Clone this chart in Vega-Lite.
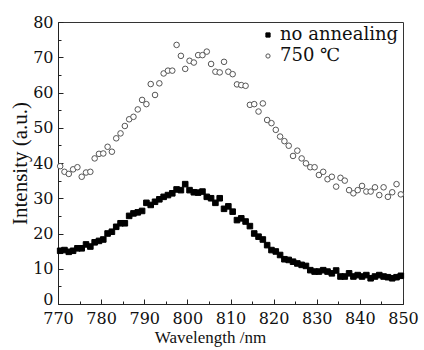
{
  "$schema": "https://vega.github.io/schema/vega-lite/v6.json",
  "width": 345,
  "height": 282,
  "autosize": "none",
  "padding": {"left": 58, "top": 22, "right": 21, "bottom": 46},
  "background": "white",
  "config": {
    "view": {"stroke": "#333", "strokeWidth": 1},
    "font": "DejaVu Serif"
  },
  "data": {"values": [
    {"x":770.5,"y":15.1,"s":"no annealing"},{"x":771.5,"y":15.3,"s":"no annealing"},{"x":772.5,"y":14.8,"s":"no annealing"},{"x":773.5,"y":15.1,"s":"no annealing"},{"x":774.5,"y":15.8,"s":"no annealing"},{"x":775.5,"y":15.8,"s":"no annealing"},{"x":776.5,"y":16.9,"s":"no annealing"},{"x":777.5,"y":16.3,"s":"no annealing"},{"x":778.5,"y":17.5,"s":"no annealing"},{"x":779.5,"y":17.9,"s":"no annealing"},
    {"x":780.5,"y":18.3,"s":"no annealing"},{"x":781.5,"y":20.0,"s":"no annealing"},{"x":782.5,"y":20.5,"s":"no annealing"},{"x":783.5,"y":21.9,"s":"no annealing"},{"x":784.5,"y":22.9,"s":"no annealing"},{"x":785.5,"y":22.9,"s":"no annealing"},{"x":786.5,"y":25.0,"s":"no annealing"},{"x":787.5,"y":25.7,"s":"no annealing"},{"x":788.5,"y":26.0,"s":"no annealing"},{"x":789.5,"y":26.4,"s":"no annealing"},
    {"x":790.5,"y":28.7,"s":"no annealing"},{"x":791.5,"y":28.1,"s":"no annealing"},{"x":792.5,"y":29.0,"s":"no annealing"},{"x":793.5,"y":29.7,"s":"no annealing"},{"x":794.5,"y":30.4,"s":"no annealing"},{"x":795.5,"y":30.9,"s":"no annealing"},{"x":796.5,"y":31.4,"s":"no annealing"},{"x":797.5,"y":32.5,"s":"no annealing"},{"x":798.5,"y":32.3,"s":"no annealing"},{"x":799.5,"y":34.0,"s":"no annealing"},
    {"x":800.5,"y":32.3,"s":"no annealing"},{"x":801.5,"y":31.7,"s":"no annealing"},{"x":802.5,"y":31.6,"s":"no annealing"},{"x":803.5,"y":31.9,"s":"no annealing"},{"x":804.5,"y":30.4,"s":"no annealing"},{"x":805.5,"y":30.0,"s":"no annealing"},{"x":806.5,"y":28.7,"s":"no annealing"},{"x":807.5,"y":30.0,"s":"no annealing"},{"x":808.5,"y":27.0,"s":"no annealing"},{"x":809.5,"y":27.7,"s":"no annealing"},
    {"x":810.5,"y":26.2,"s":"no annealing"},{"x":811.5,"y":23.8,"s":"no annealing"},{"x":812.5,"y":24.3,"s":"no annealing"},{"x":813.5,"y":23.4,"s":"no annealing"},{"x":814.5,"y":22.1,"s":"no annealing"},{"x":815.5,"y":20.0,"s":"no annealing"},{"x":816.5,"y":19.1,"s":"no annealing"},{"x":817.5,"y":18.3,"s":"no annealing"},{"x":818.5,"y":16.7,"s":"no annealing"},{"x":819.5,"y":15.3,"s":"no annealing"},
    {"x":820.5,"y":14.9,"s":"no annealing"},{"x":821.5,"y":13.9,"s":"no annealing"},{"x":822.5,"y":12.7,"s":"no annealing"},{"x":823.5,"y":12.5,"s":"no annealing"},{"x":824.5,"y":12.0,"s":"no annealing"},{"x":825.5,"y":11.5,"s":"no annealing"},{"x":826.5,"y":11.1,"s":"no annealing"},{"x":827.5,"y":10.8,"s":"no annealing"},{"x":828.5,"y":9.6,"s":"no annealing"},{"x":829.5,"y":9.2,"s":"no annealing"},
    {"x":830.5,"y":9.2,"s":"no annealing"},{"x":831.5,"y":9.6,"s":"no annealing"},{"x":832.5,"y":9.2,"s":"no annealing"},{"x":833.5,"y":8.7,"s":"no annealing"},{"x":834.5,"y":9.5,"s":"no annealing"},{"x":835.5,"y":7.8,"s":"no annealing"},{"x":836.5,"y":7.8,"s":"no annealing"},{"x":837.5,"y":8.7,"s":"no annealing"},{"x":838.5,"y":7.8,"s":"no annealing"},{"x":839.5,"y":8.2,"s":"no annealing"},
    {"x":840.5,"y":7.8,"s":"no annealing"},{"x":841.5,"y":8.2,"s":"no annealing"},{"x":842.5,"y":7.3,"s":"no annealing"},{"x":843.5,"y":7.8,"s":"no annealing"},{"x":844.5,"y":8.2,"s":"no annealing"},{"x":845.5,"y":7.8,"s":"no annealing"},{"x":846.5,"y":7.6,"s":"no annealing"},{"x":847.5,"y":7.3,"s":"no annealing"},{"x":848.5,"y":7.6,"s":"no annealing"},{"x":849.5,"y":8.0,"s":"no annealing"},
    {"x":770.5,"y":39.1,"s":"750 ℃"},{"x":771.5,"y":37.5,"s":"750 ℃"},{"x":772.5,"y":36.9,"s":"750 ℃"},{"x":773.5,"y":38.2,"s":"750 ℃"},{"x":774.5,"y":38.8,"s":"750 ℃"},{"x":775.5,"y":36.1,"s":"750 ℃"},{"x":776.5,"y":37.3,"s":"750 ℃"},{"x":777.5,"y":37.5,"s":"750 ℃"},{"x":778.5,"y":41.3,"s":"750 ℃"},{"x":779.5,"y":42.6,"s":"750 ℃"},
    {"x":780.5,"y":42.7,"s":"750 ℃"},{"x":781.5,"y":44.6,"s":"750 ℃"},{"x":782.5,"y":43.2,"s":"750 ℃"},{"x":783.5,"y":47.0,"s":"750 ℃"},{"x":784.5,"y":48.4,"s":"750 ℃"},{"x":785.5,"y":50.5,"s":"750 ℃"},{"x":786.5,"y":52.4,"s":"750 ℃"},{"x":787.5,"y":53.1,"s":"750 ℃"},{"x":788.5,"y":55.2,"s":"750 ℃"},{"x":789.5,"y":57.9,"s":"750 ℃"},
    {"x":790.5,"y":56.7,"s":"750 ℃"},{"x":791.5,"y":62.4,"s":"750 ℃"},{"x":792.5,"y":59.3,"s":"750 ℃"},{"x":793.5,"y":62.6,"s":"750 ℃"},{"x":794.5,"y":65.4,"s":"750 ℃"},{"x":795.5,"y":66.2,"s":"750 ℃"},{"x":796.5,"y":66.2,"s":"750 ℃"},{"x":797.5,"y":73.5,"s":"750 ℃"},{"x":798.5,"y":70.4,"s":"750 ℃"},{"x":799.5,"y":66.7,"s":"750 ℃"},
    {"x":800.5,"y":69.0,"s":"750 ℃"},{"x":801.5,"y":68.5,"s":"750 ℃"},{"x":802.5,"y":70.6,"s":"750 ℃"},{"x":803.5,"y":70.6,"s":"750 ℃"},{"x":804.5,"y":71.6,"s":"750 ℃"},{"x":805.5,"y":68.1,"s":"750 ℃"},{"x":806.5,"y":65.9,"s":"750 ℃"},{"x":807.5,"y":65.7,"s":"750 ℃"},{"x":808.5,"y":68.7,"s":"750 ℃"},{"x":809.5,"y":65.9,"s":"750 ℃"},
    {"x":810.5,"y":65.2,"s":"750 ℃"},{"x":811.5,"y":62.3,"s":"750 ℃"},{"x":812.5,"y":62.1,"s":"750 ℃"},{"x":813.5,"y":61.9,"s":"750 ℃"},{"x":814.5,"y":56.5,"s":"750 ℃"},{"x":815.5,"y":56.7,"s":"750 ℃"},{"x":816.5,"y":54.6,"s":"750 ℃"},{"x":817.5,"y":56.9,"s":"750 ℃"},{"x":818.5,"y":52.2,"s":"750 ℃"},{"x":819.5,"y":51.3,"s":"750 ℃"},
    {"x":820.5,"y":49.4,"s":"750 ℃"},{"x":821.5,"y":47.5,"s":"750 ℃"},{"x":822.5,"y":46.2,"s":"750 ℃"},{"x":823.5,"y":44.9,"s":"750 ℃"},{"x":824.5,"y":42.0,"s":"750 ℃"},{"x":825.5,"y":43.5,"s":"750 ℃"},{"x":826.5,"y":41.3,"s":"750 ℃"},{"x":827.5,"y":39.9,"s":"750 ℃"},{"x":828.5,"y":38.8,"s":"750 ℃"},{"x":829.5,"y":38.8,"s":"750 ℃"},
    {"x":830.5,"y":36.6,"s":"750 ℃"},{"x":831.5,"y":37.5,"s":"750 ℃"},{"x":832.5,"y":35.4,"s":"750 ℃"},{"x":833.5,"y":36.1,"s":"750 ℃"},{"x":834.5,"y":33.3,"s":"750 ℃"},{"x":835.5,"y":35.8,"s":"750 ℃"},{"x":836.5,"y":35.0,"s":"750 ℃"},{"x":837.5,"y":32.3,"s":"750 ℃"},{"x":838.5,"y":31.4,"s":"750 ℃"},{"x":839.5,"y":32.3,"s":"750 ℃"},
    {"x":840.5,"y":33.5,"s":"750 ℃"},{"x":841.5,"y":31.9,"s":"750 ℃"},{"x":842.5,"y":31.9,"s":"750 ℃"},{"x":843.5,"y":33.1,"s":"750 ℃"},{"x":844.5,"y":30.9,"s":"750 ℃"},{"x":845.5,"y":33.1,"s":"750 ℃"},{"x":846.5,"y":30.4,"s":"750 ℃"},{"x":847.5,"y":31.7,"s":"750 ℃"},{"x":848.5,"y":34.0,"s":"750 ℃"},{"x":849.5,"y":31.1,"s":"750 ℃"}
  ]},
  "mark": {"type": "point", "size": 31, "strokeWidth": 1, "opacity": 1},
  "encoding": {
    "x": {
      "field": "x", "type": "quantitative",
      "scale": {"domain": [770, 850], "nice": false, "zero": false},
      "axis": {
        "title": "Wavelength /nm",
        "titleFont": "Liberation Serif", "titleFontSize": 17, "titleFontWeight": "normal", "titleColor": "#111",
        "titlePadding": 1, "titleX": 152, "titleAlign": "center",
        "values": [770,775,780,785,790,795,800,805,810,815,820,825,830,835,840,845,850],
        "labelExpr": "datum.value % 10 == 0 ? datum.label : ''",
        "labelFont": "DejaVu Serif", "labelFontSize": 16, "labelColor": "#111",
        "labelPadding": 11,
        "labelFlush": false, "labelOverlap": false,
        "grid": false,
        "domainColor": "#222", "tickColor": "#222",
        "tickSize": {"condition": {"test": "datum.value % 10 == 0", "value": -5}, "value": -3}
      }
    },
    "y": {
      "field": "y", "type": "quantitative",
      "scale": {"domain": [0, 80], "nice": false},
      "axis": {
        "title": "Intensity (a.u.)",
        "titleFont": "Liberation Serif", "titleFontSize": 21, "titleFontWeight": "normal", "titleColor": "#111",
        "titlePadding": 2,
        "values": [0,5,10,15,20,25,30,35,40,45,50,55,60,65,70,75,80],
        "labelExpr": "datum.value % 10 == 0 ? datum.label : ''",
        "labelFont": "DejaVu Serif", "labelFontSize": 16, "labelColor": "#111",
        "labelPadding": 10,
        "labelOffset": {"condition": {"test": "datum.value == 0", "value": -5}, "value": 0},
        "labelFlush": false, "labelOverlap": false,
        "grid": false,
        "domainColor": "#222", "tickColor": "#222",
        "tickSize": {"condition": {"test": "datum.value % 10 == 0", "value": -5}, "value": -3}
      }
    },
    "shape": {
      "field": "s", "type": "nominal",
      "scale": {"domain": ["no annealing", "750 ℃"], "range": ["square", "circle"]},
      "legend": {
        "title": null, "orient": "top-right", "offset": 4, "padding": 0,
        "labelFont": "DejaVu Serif", "labelFontSize": 18, "labelColor": "#111",
        "symbolSize": 18, "symbolStrokeWidth": 1, "labelOffset": 3, "rowPadding": 3
      }
    },
    "fill": {
      "field": "s", "type": "nominal",
      "scale": {"domain": ["no annealing", "750 ℃"], "range": ["#000000", "#ffffff"]},
      "legend": null
    },
    "stroke": {
      "field": "s", "type": "nominal",
      "scale": {"domain": ["no annealing", "750 ℃"], "range": ["#000000", "#555555"]},
      "legend": null
    }
  }
}
